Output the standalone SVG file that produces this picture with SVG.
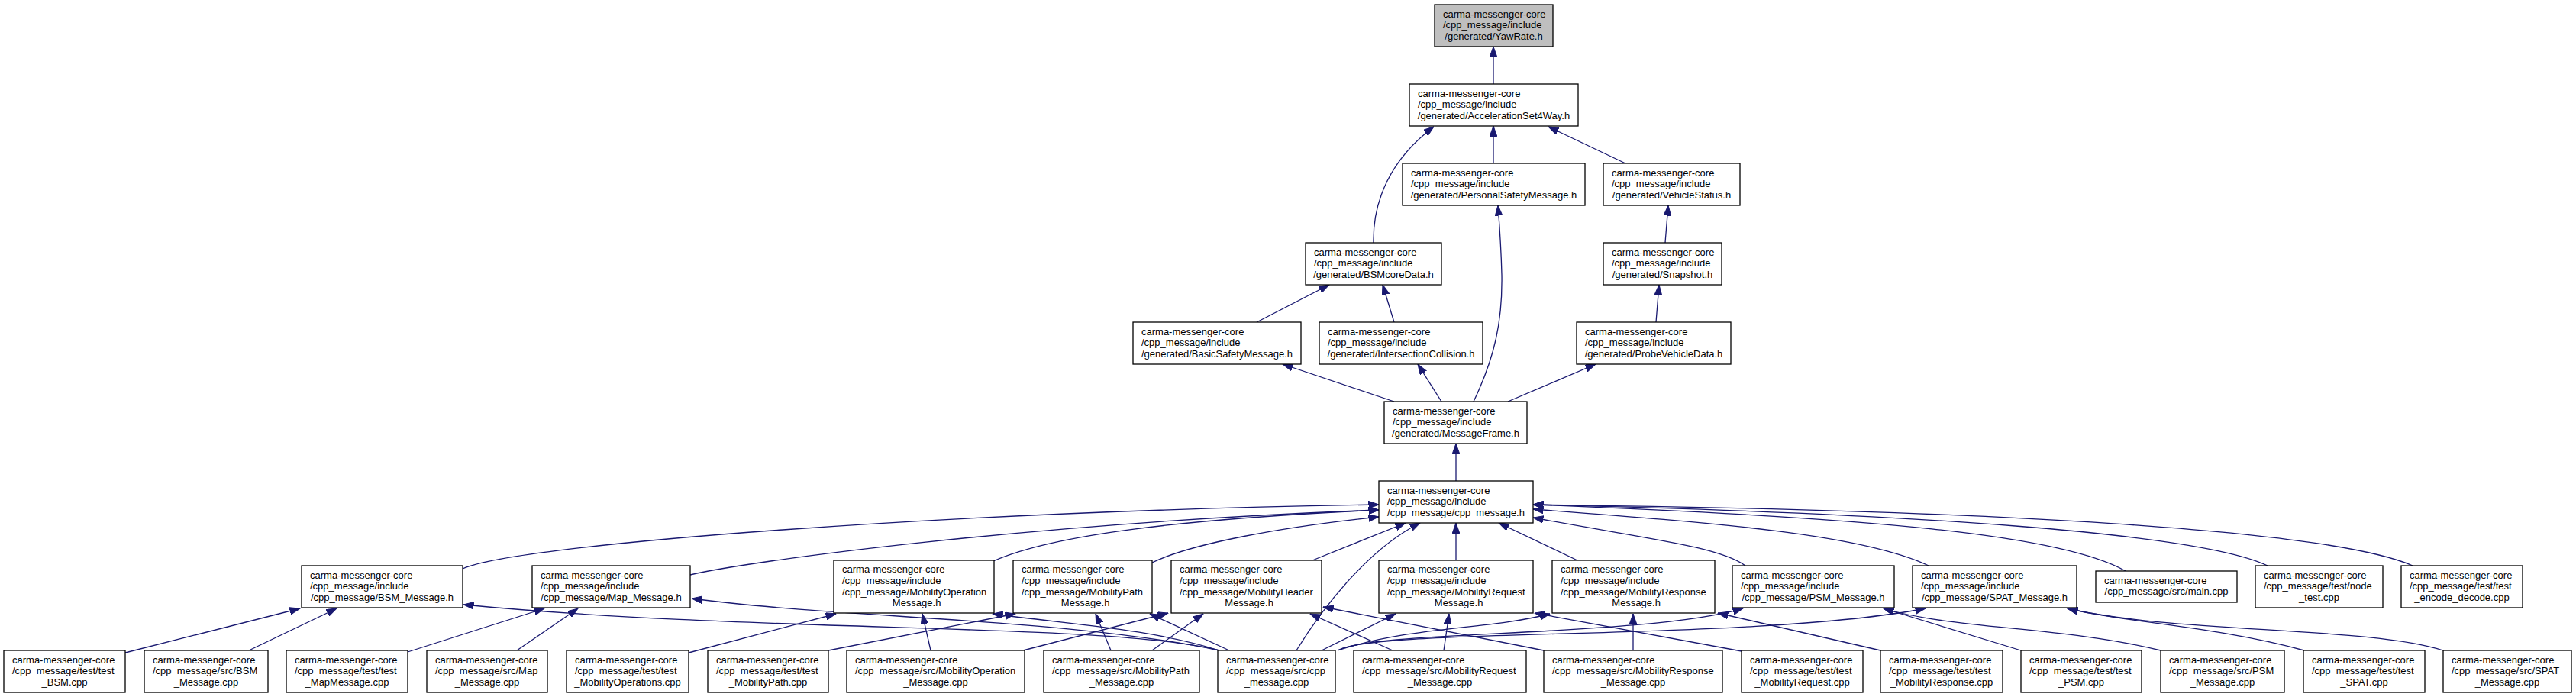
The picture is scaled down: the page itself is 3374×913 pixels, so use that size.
<svg xmlns="http://www.w3.org/2000/svg" width="3374" height="913" viewBox="0 0 3374 913">
<style>
rect{fill:#fff;stroke:#000;stroke-width:1.3}
#yawrate rect{fill:#bfbfbf}
text{font-family:"Liberation Sans",Arial,Helvetica,sans-serif;font-size:13px;fill:#000}
text.c{text-anchor:middle}
#edges path{fill:none;stroke:#191970;stroke-width:1.3;marker-end:url(#ah)}
</style>
<defs>
<marker id="ah" markerUnits="userSpaceOnUse" markerWidth="14" markerHeight="10" refX="13.5" refY="4.8" orient="auto"><path d="M0,0 L13.5,4.8 L0,9.6 z" fill="#191970" stroke="#191970" stroke-width="1"/></marker>
</defs>
<rect x="0" y="0" width="3374" height="913" style="fill:#fff;stroke:none"/>
<g id="edges">
<path d="M1956,110 L1956,61"/>
<path d="M1956,214 L1956,165"/>
<path d="M1799,318 C1798,262 1822,208 1878,166"/>
<path d="M2129,214 L2028,166"/>
<path d="M1646,422 L1741,373"/>
<path d="M1826,422 L1811,373"/>
<path d="M1826,526 L1680,477"/>
<path d="M1888,526 L1857,477"/>
<path d="M1930,526 C1958,468 1968,420 1967,360 C1966,320 1964,295 1962,269"/>
<path d="M1975,526 L2090,477"/>
<path d="M2169,422 L2173,373"/>
<path d="M2181,318 L2185,269"/>
<path d="M1907,630 L1907,581"/>
<path d="M606,745 C680,712 1250,670 1806,661"/>
<path d="M904,753 C980,735 1350,685 1806,668"/>
<path d="M1301,735 C1380,700 1550,680 1806,668"/>
<path d="M1509,737 C1560,712 1680,690 1806,677"/>
<path d="M1719,734 L1841,685"/>
<path d="M1698,852 C1730,800 1790,720 1860,685"/>
<path d="M1907,734 L1907,685"/>
<path d="M2066,734 L1963,685"/>
<path d="M2286,741 C2250,715 2150,705 2008,678"/>
<path d="M2526,741 C2440,700 2250,685 2008,667"/>
<path d="M2784,748 C2700,700 2450,678 2008,661"/>
<path d="M2970,741 C2880,698 2500,672 2008,661"/>
<path d="M3160,741 C3050,693 2600,668 2008,661"/>
<path d="M164,855 L393,797"/>
<path d="M326,852 L441,797"/>
<path d="M1597,852 C1450,815 1000,830 607,792"/>
<path d="M1597,852 C1400,810 1100,810 906,784"/>
<path d="M534,854 L713,797"/>
<path d="M677,852 L757,797"/>
<path d="M902,855 L1095,804"/>
<path d="M1219,852 L1208,804"/>
<path d="M1597,852 C1500,822 1400,818 1300,804"/>
<path d="M1085,852 L1330,804"/>
<path d="M1455,852 L1435,804"/>
<path d="M1610,852 L1506,804"/>
<path d="M1340,852 L1530,803"/>
<path d="M1509,852 L1576,804"/>
<path d="M1824,852 L1716,804"/>
<path d="M2022,852 L1733,795"/>
<path d="M1731,852 L1828,804"/>
<path d="M1891,852 L1898,804"/>
<path d="M2281,853 L2010,803"/>
<path d="M1752,852 C1850,820 1950,825 2030,804"/>
<path d="M2139,852 L2139,804"/>
<path d="M2463,852 L2250,803"/>
<path d="M1752,852 C1800,825 2150,835 2283,797"/>
<path d="M1752,852 C1800,822 2300,840 2522,797"/>
<path d="M2647,852 L2467,797"/>
<path d="M2830,852 C2700,820 2560,825 2467,797"/>
<path d="M3018,852 C2900,820 2780,815 2708,797"/>
<path d="M3200,852 C3100,820 2850,830 2708,797"/>
</g>
<g id="yawrate"><rect x="1879" y="6" width="155" height="55"/><text x="1890" y="22.5">carma-messenger-core</text><text x="1890" y="37.2">/cpp_message/include</text><text class="c" x="1956.5" y="51.9">/generated/YawRate.h</text></g>
<g id="accelerationset4way"><rect x="1846" y="110" width="221" height="55"/><text x="1857" y="126.5">carma-messenger-core</text><text x="1857" y="141.2">/cpp_message/include</text><text class="c" x="1956.5" y="155.9">/generated/AccelerationSet4Way.h</text></g>
<g id="personalsafetymessage"><rect x="1837" y="214" width="239" height="55"/><text x="1848" y="230.5">carma-messenger-core</text><text x="1848" y="245.2">/cpp_message/include</text><text class="c" x="1956.5" y="259.9">/generated/PersonalSafetyMessage.h</text></g>
<g id="vehiclestatus"><rect x="2100" y="214" width="179" height="55"/><text x="2111" y="230.5">carma-messenger-core</text><text x="2111" y="245.2">/cpp_message/include</text><text class="c" x="2189.5" y="259.9">/generated/VehicleStatus.h</text></g>
<g id="bsmcoredata"><rect x="1710" y="318" width="178" height="55"/><text x="1721" y="334.5">carma-messenger-core</text><text x="1721" y="349.2">/cpp_message/include</text><text class="c" x="1799" y="363.9">/generated/BSMcoreData.h</text></g>
<g id="snapshot"><rect x="2100" y="318" width="155" height="55"/><text x="2111" y="334.5">carma-messenger-core</text><text x="2111" y="349.2">/cpp_message/include</text><text class="c" x="2177.5" y="363.9">/generated/Snapshot.h</text></g>
<g id="basicsafetymessage"><rect x="1484" y="422" width="220" height="55"/><text x="1495" y="438.5">carma-messenger-core</text><text x="1495" y="453.2">/cpp_message/include</text><text class="c" x="1594" y="467.9">/generated/BasicSafetyMessage.h</text></g>
<g id="intersectioncollision"><rect x="1728" y="422" width="214" height="55"/><text x="1739" y="438.5">carma-messenger-core</text><text x="1739" y="453.2">/cpp_message/include</text><text class="c" x="1835" y="467.9">/generated/IntersectionCollision.h</text></g>
<g id="probevehicledata"><rect x="2065" y="422" width="202" height="55"/><text x="2076" y="438.5">carma-messenger-core</text><text x="2076" y="453.2">/cpp_message/include</text><text class="c" x="2166" y="467.9">/generated/ProbeVehicleData.h</text></g>
<g id="messageframe"><rect x="1813" y="526" width="187" height="55"/><text x="1824" y="542.5">carma-messenger-core</text><text x="1824" y="557.2">/cpp_message/include</text><text class="c" x="1906.5" y="571.9">/generated/MessageFrame.h</text></g>
<g id="cpp_message_h"><rect x="1806" y="630" width="202" height="55"/><text x="1817" y="646.5">carma-messenger-core</text><text x="1817" y="661.2">/cpp_message/include</text><text class="c" x="1907" y="675.9">/cpp_message/cpp_message.h</text></g>
<g id="bsm_message_h"><rect x="395" y="741" width="211" height="55"/><text x="406" y="757.5">carma-messenger-core</text><text x="406" y="772.2">/cpp_message/include</text><text class="c" x="500.5" y="786.9">/cpp_message/BSM_Message.h</text></g>
<g id="map_message_h"><rect x="697" y="741" width="207" height="55"/><text x="708" y="757.5">carma-messenger-core</text><text x="708" y="772.2">/cpp_message/include</text><text class="c" x="800.5" y="786.9">/cpp_message/Map_Message.h</text></g>
<g id="mobilityoperation_message_h"><rect x="1092" y="734" width="210" height="69"/><text x="1103" y="750.3">carma-messenger-core</text><text x="1103" y="765">/cpp_message/include</text><text x="1103" y="779.7">/cpp_message/MobilityOperation</text><text class="c" x="1197" y="794.4">_Message.h</text></g>
<g id="mobilitypath_message_h"><rect x="1327" y="734" width="182" height="69"/><text x="1338" y="750.3">carma-messenger-core</text><text x="1338" y="765">/cpp_message/include</text><text x="1338" y="779.7">/cpp_message/MobilityPath</text><text class="c" x="1418" y="794.4">_Message.h</text></g>
<g id="mobilityheader_message_h"><rect x="1534" y="734" width="197" height="69"/><text x="1545" y="750.3">carma-messenger-core</text><text x="1545" y="765">/cpp_message/include</text><text x="1545" y="779.7">/cpp_message/MobilityHeader</text><text class="c" x="1632.5" y="794.4">_Message.h</text></g>
<g id="mobilityrequest_message_h"><rect x="1806" y="734" width="202" height="69"/><text x="1817" y="750.3">carma-messenger-core</text><text x="1817" y="765">/cpp_message/include</text><text x="1817" y="779.7">/cpp_message/MobilityRequest</text><text class="c" x="1907" y="794.4">_Message.h</text></g>
<g id="mobilityresponse_message_h"><rect x="2033" y="734" width="213" height="69"/><text x="2044" y="750.3">carma-messenger-core</text><text x="2044" y="765">/cpp_message/include</text><text x="2044" y="779.7">/cpp_message/MobilityResponse</text><text class="c" x="2139.5" y="794.4">_Message.h</text></g>
<g id="psm_message_h"><rect x="2269" y="741" width="212" height="55"/><text x="2280" y="757.5">carma-messenger-core</text><text x="2280" y="772.2">/cpp_message/include</text><text class="c" x="2375" y="786.9">/cpp_message/PSM_Message.h</text></g>
<g id="spat_message_h"><rect x="2505" y="741" width="215" height="55"/><text x="2516" y="757.5">carma-messenger-core</text><text x="2516" y="772.2">/cpp_message/include</text><text class="c" x="2612.5" y="786.9">/cpp_message/SPAT_Message.h</text></g>
<g id="main_cpp"><rect x="2745" y="748" width="185" height="41"/><text x="2756" y="764.5">carma-messenger-core</text><text class="c" x="2837.5" y="779.2">/cpp_message/src/main.cpp</text></g>
<g id="node_test_cpp"><rect x="2954" y="741" width="167" height="55"/><text x="2965" y="757.5">carma-messenger-core</text><text x="2965" y="772.2">/cpp_message/test/node</text><text class="c" x="3037.5" y="786.9">_test.cpp</text></g>
<g id="test_encode_decode_cpp"><rect x="3145" y="741" width="159" height="55"/><text x="3156" y="757.5">carma-messenger-core</text><text x="3156" y="772.2">/cpp_message/test/test</text><text class="c" x="3224.5" y="786.9">_encode_decode.cpp</text></g>
<g id="test_bsm_cpp"><rect x="5" y="852" width="159" height="55"/><text x="16" y="868.5">carma-messenger-core</text><text x="16" y="883.2">/cpp_message/test/test</text><text class="c" x="84.5" y="897.9">_BSM.cpp</text></g>
<g id="bsm_message_cpp"><rect x="189" y="852" width="162" height="55"/><text x="200" y="868.5">carma-messenger-core</text><text x="200" y="883.2">/cpp_message/src/BSM</text><text class="c" x="270" y="897.9">_Message.cpp</text></g>
<g id="test_mapmessage_cpp"><rect x="375" y="852" width="159" height="55"/><text x="386" y="868.5">carma-messenger-core</text><text x="386" y="883.2">/cpp_message/test/test</text><text class="c" x="454.5" y="897.9">_MapMessage.cpp</text></g>
<g id="map_message_cpp"><rect x="559" y="852" width="158" height="55"/><text x="570" y="868.5">carma-messenger-core</text><text x="570" y="883.2">/cpp_message/src/Map</text><text class="c" x="638" y="897.9">_Message.cpp</text></g>
<g id="test_mobilityoperations_cpp"><rect x="742" y="852" width="160" height="55"/><text x="753" y="868.5">carma-messenger-core</text><text x="753" y="883.2">/cpp_message/test/test</text><text class="c" x="822" y="897.9">_MobilityOperations.cpp</text></g>
<g id="test_mobilitypath_cpp"><rect x="927" y="852" width="158" height="55"/><text x="938" y="868.5">carma-messenger-core</text><text x="938" y="883.2">/cpp_message/test/test</text><text class="c" x="1006" y="897.9">_MobilityPath.cpp</text></g>
<g id="mobilityoperation_message_cpp"><rect x="1109" y="852" width="233" height="55"/><text x="1120" y="868.5">carma-messenger-core</text><text x="1120" y="883.2">/cpp_message/src/MobilityOperation</text><text class="c" x="1225.5" y="897.9">_Message.cpp</text></g>
<g id="mobilitypath_message_cpp"><rect x="1367" y="852" width="204" height="55"/><text x="1378" y="868.5">carma-messenger-core</text><text x="1378" y="883.2">/cpp_message/src/MobilityPath</text><text class="c" x="1469" y="897.9">_Message.cpp</text></g>
<g id="cpp_message_cpp"><rect x="1595" y="852" width="154" height="55"/><text x="1606" y="868.5">carma-messenger-core</text><text x="1606" y="883.2">/cpp_message/src/cpp</text><text class="c" x="1672" y="897.9">_message.cpp</text></g>
<g id="mobilityrequest_message_cpp"><rect x="1773" y="852" width="226" height="55"/><text x="1784" y="868.5">carma-messenger-core</text><text x="1784" y="883.2">/cpp_message/src/MobilityRequest</text><text class="c" x="1886" y="897.9">_Message.cpp</text></g>
<g id="mobilityresponse_message_cpp"><rect x="2022" y="852" width="234" height="55"/><text x="2033" y="868.5">carma-messenger-core</text><text x="2033" y="883.2">/cpp_message/src/MobilityResponse</text><text class="c" x="2139" y="897.9">_Message.cpp</text></g>
<g id="test_mobilityrequest_cpp"><rect x="2281" y="852" width="159" height="55"/><text x="2292" y="868.5">carma-messenger-core</text><text x="2292" y="883.2">/cpp_message/test/test</text><text class="c" x="2360.5" y="897.9">_MobilityRequest.cpp</text></g>
<g id="test_mobilityresponse_cpp"><rect x="2463" y="852" width="160" height="55"/><text x="2474" y="868.5">carma-messenger-core</text><text x="2474" y="883.2">/cpp_message/test/test</text><text class="c" x="2543" y="897.9">_MobilityResponse.cpp</text></g>
<g id="test_psm_cpp"><rect x="2647" y="852" width="158" height="55"/><text x="2658" y="868.5">carma-messenger-core</text><text x="2658" y="883.2">/cpp_message/test/test</text><text class="c" x="2726" y="897.9">_PSM.cpp</text></g>
<g id="psm_message_cpp"><rect x="2830" y="852" width="162" height="55"/><text x="2841" y="868.5">carma-messenger-core</text><text x="2841" y="883.2">/cpp_message/src/PSM</text><text class="c" x="2911" y="897.9">_Message.cpp</text></g>
<g id="test_spat_cpp"><rect x="3017" y="852" width="159" height="55"/><text x="3028" y="868.5">carma-messenger-core</text><text x="3028" y="883.2">/cpp_message/test/test</text><text class="c" x="3096.5" y="897.9">_SPAT.cpp</text></g>
<g id="spat_message_cpp"><rect x="3200" y="852" width="168" height="55"/><text x="3211" y="868.5">carma-messenger-core</text><text x="3211" y="883.2">/cpp_message/src/SPAT</text><text class="c" x="3284" y="897.9">_Message.cpp</text></g>
</svg>
